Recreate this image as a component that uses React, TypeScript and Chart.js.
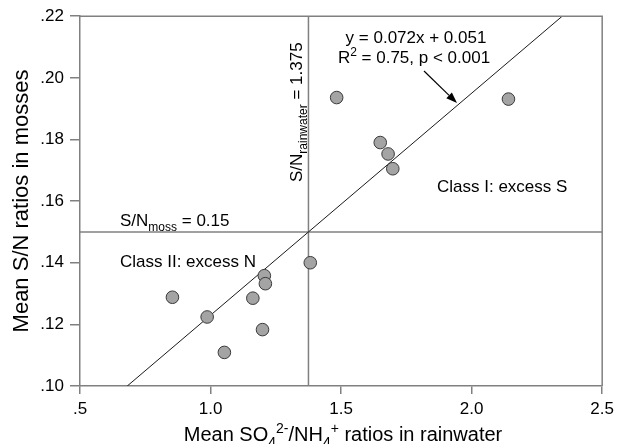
import React, { useEffect, useRef } from "react";
import { Chart, registerables } from "chart.js";

Chart.register(...registerables);

// ---- data ----
const rainRatios = [0.854, 0.987, 1.053, 1.162, 1.199, 1.206, 1.21, 1.382, 1.483, 1.65, 1.68, 1.698, 2.141];
const mossRatios = [0.1288, 0.1224, 0.1109, 0.1285, 0.1183, 0.1358, 0.1332, 0.14, 0.1936, 0.179, 0.1753, 0.1705, 0.1931];
const regX = [0.681, 2.347];
const regY = [0.1, 0.22];
const rainThreshold = 1.375;
const mossThreshold = 0.15;
const xTickLabels = [".5", "1.0", "1.5", "2.0", "2.5"];
const yTickLabels = [".10", ".12", ".14", ".16", ".18", ".20", ".22"];

const FONT = '"Liberation Sans", Arial, Helvetica, sans-serif';

type Seg = { t: string; m?: "sub" | "sup" };

function drawRich(ctx: CanvasRenderingContext2D, segs: Seg[], x: number, y: number, size: number, align: "left" | "center", rot = 0) {
  const small = Math.round(size * 0.7);
  const widthOf = (s: Seg) => {
    ctx.font = `${s.m ? small : size}px ${FONT}`;
    return ctx.measureText(s.t).width;
  };
  const total = segs.reduce((a, s) => a + widthOf(s), 0);
  ctx.save();
  ctx.translate(x, y);
  if (rot) ctx.rotate(rot);
  ctx.textBaseline = "alphabetic";
  ctx.textAlign = "left";
  ctx.fillStyle = "#000";
  let cx = align === "center" ? -total / 2 : 0;
  for (const s of segs) {
    const w = widthOf(s);
    ctx.font = `${s.m ? small : size}px ${FONT}`;
    const dy = s.m === "sub" ? size * 0.28 : s.m === "sup" ? -size * 0.42 : 0;
    ctx.fillText(s.t, cx, dy);
    cx += w;
  }
  ctx.restore();
}

const decorPlugin = {
  id: "decor",
  afterDraw(chart: any) {
    const ctx: CanvasRenderingContext2D = chart.ctx;
    const a = chart.chartArea;
    const xs = chart.scales.x;
    const ys = chart.scales.y;
    ctx.save();
    // top & right frame
    ctx.strokeStyle = "#808080";
    ctx.lineWidth = 1.5;
    ctx.beginPath();
    ctx.moveTo(a.left, a.top);
    ctx.lineTo(a.right, a.top);
    ctx.lineTo(a.right, a.bottom);
    ctx.stroke();

    // axis titles
    drawRich(ctx, [{ t: "Mean S/N ratios in mosses" }], 28, 201, 22, "center", -Math.PI / 2);
    drawRich(
      ctx,
      [
        { t: "Mean SO" },
        { t: "4", m: "sub" },
        { t: "2-", m: "sup" },
        { t: "/NH" },
        { t: "4", m: "sub" },
        { t: "+", m: "sup" },
        { t: " ratios in rainwater" },
      ],
      343,
      441,
      20,
      "center"
    );

    // annotations
    drawRich(ctx, [{ t: "y = 0.072x + 0.051" }], 416, 43, 17, "center");
    drawRich(ctx, [{ t: "R" }, { t: "2", m: "sup" }, { t: " = 0.75, p < 0.001" }], 414, 63, 17, "center");
    drawRich(ctx, [{ t: "Class I: excess S" }], 437, 192, 17, "left");
    drawRich(ctx, [{ t: "Class II: excess N" }], 120, 267, 17, "left");
    drawRich(ctx, [{ t: "S/N" }, { t: "moss", m: "sub" }, { t: " = 0.15" }], xs.getPixelForValue(0.5) + 40, ys.getPixelForValue(mossThreshold) - 6, 17, "left");
    drawRich(ctx, [{ t: "S/N" }, { t: "rainwater", m: "sub" }, { t: " = 1.375" }], xs.getPixelForValue(rainThreshold) - 6, 182, 17, "left", -Math.PI / 2);

    // arrow
    const x1 = 424, y1 = 71, x2 = 457, y2 = 103;
    ctx.strokeStyle = "#000";
    ctx.fillStyle = "#000";
    ctx.lineWidth = 1.2;
    const ang = Math.atan2(y2 - y1, x2 - x1);
    const hl = 11, hw = 4;
    const bx = x2 - hl * Math.cos(ang), by = y2 - hl * Math.sin(ang);
    ctx.beginPath();
    ctx.moveTo(x1, y1);
    ctx.lineTo(bx, by);
    ctx.stroke();
    ctx.beginPath();
    ctx.moveTo(x2, y2);
    ctx.lineTo(bx + hw * Math.sin(ang), by - hw * Math.cos(ang));
    ctx.lineTo(bx - hw * Math.sin(ang), by + hw * Math.cos(ang));
    ctx.closePath();
    ctx.fill();
    ctx.restore();
  },
};

export default function App() {
  const ref = useRef<HTMLCanvasElement | null>(null);
  useEffect(() => {
    if (!ref.current) return;
    const points = rainRatios.map((x, i) => ({ x, y: mossRatios[i] }));
    const reg = regX.map((x, i) => ({ x, y: regY[i] }));
    const hLine = [
      { x: 0.5, y: mossThreshold },
      { x: 2.5, y: mossThreshold },
    ];
    const vLine = [
      { x: rainThreshold, y: 0.1 },
      { x: rainThreshold, y: 0.22 },
    ];
    const lineDs = (data: any, color: string, width: number, order: number) => ({
      type: "line" as const,
      data,
      borderColor: color,
      borderWidth: width,
      pointRadius: 0,
      showLine: true,
      fill: false,
      order,
    });
    const chart = new Chart(ref.current, {
      type: "scatter",
      data: {
        datasets: [
          {
            data: points,
            pointRadius: 6.3,
            pointBackgroundColor: "#a4a4a4",
            pointBorderColor: "#3a3a3a",
            pointBorderWidth: 1,
            order: 0,
          } as any,
          lineDs(reg, "#1a1a1a", 1, 1),
          lineDs(hLine, "#808080", 1.5, 2),
          lineDs(vLine, "#808080", 1.5, 3),
        ],
      },
      options: {
        animation: false,
        responsive: false,
        devicePixelRatio: 1,
        layout: { padding: { top: 16, right: 12, left: 0, bottom: 0 } },
        plugins: { legend: { display: false }, tooltip: { enabled: false } },
        scales: {
          x: {
            type: "linear",
            min: 0.5,
            max: 2.5,
            afterFit: (s: any) => {
              s.height = 58;
            },
            ticks: {
              stepSize: 0.5,
              padding: 5,
              color: "#000",
              font: { family: FONT, size: 17 },
              callback: (_v: any, i: number) => xTickLabels[i],
            },
            grid: { drawOnChartArea: false, drawTicks: true, tickLength: 8, tickColor: "#808080", lineWidth: 1.5 },
            border: { display: true, color: "#808080", width: 1.5 },
          },
          y: {
            type: "linear",
            min: 0.1,
            max: 0.22,
            afterFit: (s: any) => {
              s.width = 80;
            },
            ticks: {
              stepSize: 0.02,
              padding: 6,
              color: "#000",
              font: { family: FONT, size: 17 },
              callback: (_v: any, i: number) => yTickLabels[i],
            },
            grid: { drawOnChartArea: false, drawTicks: true, tickLength: 10, tickColor: "#808080", lineWidth: 1.5 },
            border: { display: true, color: "#808080", width: 1.5 },
          },
        },
      },
      plugins: [decorPlugin],
    });
    return () => chart.destroy();
  }, []);
  return (
    <div style={{ position: "absolute", left: 0, top: 0, width: 619, height: 444, background: "#fff" }}>
      <canvas ref={ref} width={619} height={444} />
    </div>
  );
}
